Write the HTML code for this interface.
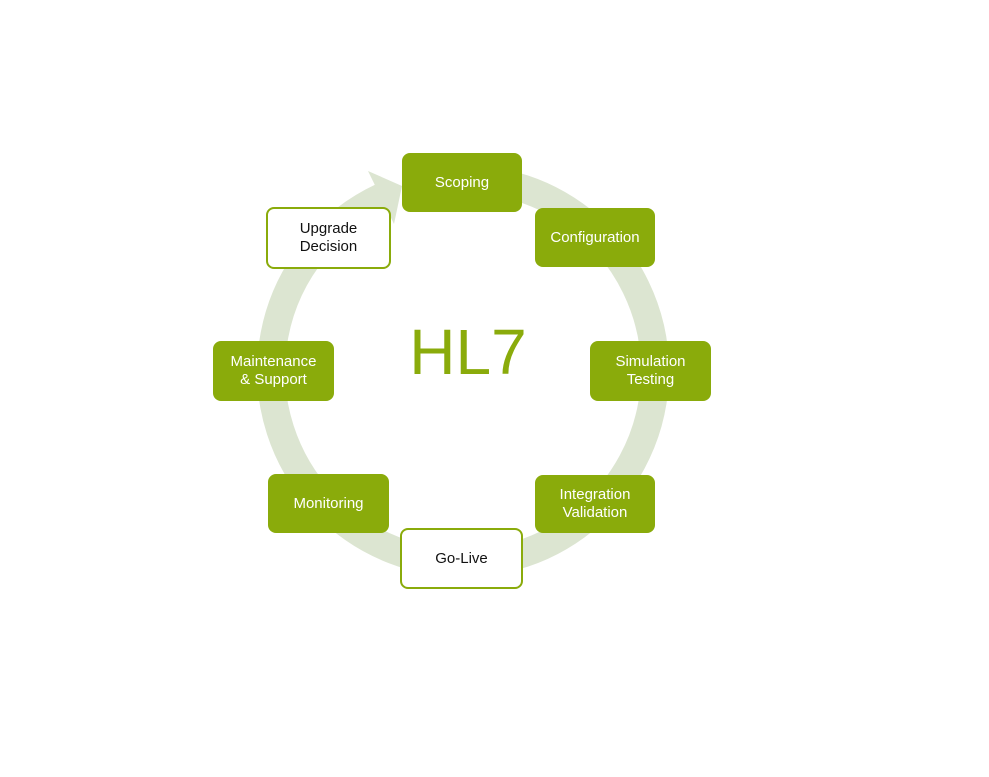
<!DOCTYPE html>
<html><head><meta charset="utf-8"><style>
html,body{margin:0;padding:0;background:#fff}
body{width:989px;height:777px;position:relative;overflow:hidden;font-family:"Liberation Sans",Arial,sans-serif}
.b{position:absolute;box-sizing:border-box;border-radius:8px;background:#8aab0b;color:#fff;font-size:15px;line-height:18px;display:flex;align-items:center;justify-content:center;text-align:center}
.o{background:#fff;border:2.5px solid #8aab0b;color:#111}
</style></head><body>
<svg width="989" height="777" style="position:absolute;left:0;top:0">
<path d="M 496.3 181.9 A 192 192 0 1 1 381.9 197" fill="none" stroke="#dce5d1" stroke-width="28"/>
<polygon points="402,186 368,171 394,224" fill="#dce5d1"/>
<text x="468" y="374" font-family="Liberation Sans, Arial, sans-serif" font-size="64" fill="#8aab0b" text-anchor="middle">HL7</text>
</svg>
<div class="b" style="left:402px;top:153px;width:120px;height:59px">Scoping</div>
<div class="b" style="left:535px;top:208px;width:120px;height:59px">Configuration</div>
<div class="b" style="left:590px;top:341px;width:121px;height:60px">Simulation<br>Testing</div>
<div class="b" style="left:535px;top:475px;width:120px;height:58px">Integration<br>Validation</div>
<div class="b o" style="left:400px;top:528px;width:123px;height:61px">Go-Live</div>
<div class="b" style="left:268px;top:474px;width:121px;height:59px">Monitoring</div>
<div class="b" style="left:213px;top:341px;width:121px;height:60px">Maintenance<br>&amp; Support</div>
<div class="b o" style="left:266px;top:207px;width:125px;height:62px">Upgrade<br>Decision</div>
</body></html>
